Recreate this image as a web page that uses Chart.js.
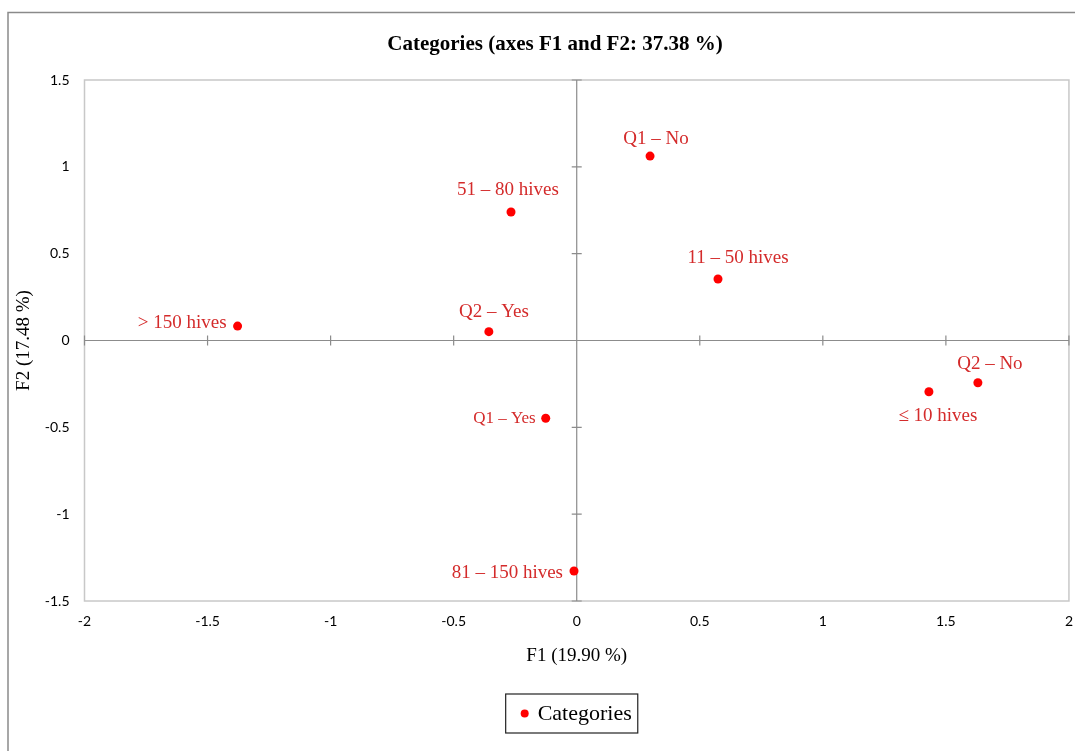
<!DOCTYPE html>
<html>
<head>
<meta charset="utf-8">
<script src="https://cdn.jsdelivr.net/npm/chart.js@4.4.1/dist/chart.umd.min.js"></script>
<style>
  html, body { margin: 0; padding: 0; background: #fff; }
  #wrap { position: relative; width: 1075px; height: 751px; }
  canvas { display: block; }
</style>
</head>
<body>
<div id="wrap"><canvas id="c" width="1075" height="751"></canvas></div>
<script>
// ---- data ----
const categories = ['Q1 – No', '51 – 80 hives', '11 – 50 hives', '> 150 hives', 'Q2 – Yes', 'Q2 – No', '≤ 10 hives', 'Q1 – Yes', '81 – 150 hives'];
const f1Values = [0.298, -0.267, 0.574, -1.378, -0.357, 1.630, 1.431, -0.126, -0.011];
const f2Values = [1.062, 0.740, 0.354, 0.083, 0.051, -0.243, -0.295, -0.448, -1.327];
const xTickValues = [-2, -1.5, -1, -0.5, 0, 0.5, 1, 1.5, 2];
const yTickValues = [-1.5, -1, -0.5, 0, 0.5, 1, 1.5];
const seriesName = 'Categories';
const chartTitle = 'Categories (axes F1 and F2: 37.38 %)';
const xTitle = 'F1 (19.90 %)';
const yTitle = 'F2 (17.48 %)';

// label placement (style only): alignment and pixel offsets from the point
const labelPlacement = [
  {align: 'center', dx: 6,   dy: -17, size: 19},
  {align: 'center', dx: -3,  dy: -22, size: 19},
  {align: 'center', dx: 20,  dy: -21, size: 19},
  {align: 'right',  dx: -11, dy: -3,  size: 19},
  {align: 'center', dx: 5,   dy: -20, size: 19},
  {align: 'center', dx: 12,  dy: -19, size: 19},
  {align: 'center', dx: 9,   dy: 24,  size: 19},
  {align: 'right',  dx: -10, dy: 0,   size: 17},
  {align: 'right',  dx: -11, dy: 2,   size: 19}
];

const SERIF = '"Liberation Serif", "DejaVu Serif", serif';
const SANS = 'Lato, "Open Sans", "Liberation Sans", sans-serif';

const points = f1Values.map((x, i) => ({x: x, y: f2Values[i]}));

const decorPlugin = {
  id: 'decor',
  beforeDraw(chart) {
    const ctx = chart.ctx;
    ctx.save();
    ctx.fillStyle = '#fff';
    ctx.fillRect(0, 0, chart.width, chart.height);
    // outer border
    ctx.strokeStyle = '#8a8a8a';
    ctx.lineWidth = 1.5;
    ctx.beginPath();
    ctx.moveTo(8, chart.height);
    ctx.lineTo(8, 12.5);
    ctx.lineTo(chart.width, 12.5);
    ctx.stroke();
    ctx.restore();
  },
  beforeDatasetsDraw(chart) {
    const {ctx, chartArea: a, scales: {x, y}} = chart;
    ctx.save();
    // plot frame
    ctx.strokeStyle = '#c8c8c8';
    ctx.lineWidth = 1.5;
    ctx.strokeRect(a.left, a.top, a.right - a.left, a.bottom - a.top);
    // zero axes
    const x0 = x.getPixelForValue(0), y0 = y.getPixelForValue(0);
    ctx.strokeStyle = '#8c8c8c';
    ctx.lineWidth = 1.2;
    ctx.beginPath();
    ctx.moveTo(x0, a.top); ctx.lineTo(x0, a.bottom);
    ctx.moveTo(a.left, y0); ctx.lineTo(a.right, y0);
    // tick marks on zero axes
    y.ticks.forEach(t => {
      const py = y.getPixelForValue(t.value);
      ctx.moveTo(x0 - 5, py); ctx.lineTo(x0 + 5, py);
    });
    x.ticks.forEach(t => {
      const px = x.getPixelForValue(t.value);
      ctx.moveTo(px, y0 - 5); ctx.lineTo(px, y0 + 5);
    });
    ctx.stroke();
    ctx.restore();
  },
  afterDatasetsDraw(chart) {
    const ctx = chart.ctx;
    const meta = chart.getDatasetMeta(0);
    ctx.save();
    ctx.fillStyle = '#d42b2b';
    ctx.textBaseline = 'middle';
    meta.data.forEach((el, i) => {
      const p = labelPlacement[i];
      ctx.font = p.size + 'px ' + SERIF;
      ctx.textAlign = p.align;
      ctx.fillText(categories[i], el.x + p.dx, el.y + p.dy);
    });
    ctx.restore();
  },
  afterDraw(chart) {
    const {ctx, chartArea: a} = chart;
    ctx.save();
    // title
    ctx.fillStyle = '#000';
    ctx.font = 'bold 21px ' + SERIF;
    ctx.textAlign = 'center';
    ctx.textBaseline = 'middle';
    ctx.fillText(chartTitle, 555, 45);
    // legend
    ctx.font = '22px ' + SERIF;
    const tw = ctx.measureText(seriesName).width;
    const bw = tw + 38, bh = 39;
    const cx = (a.left + a.right) / 2 - 5;
    const bx = cx - bw / 2, by = 694;
    ctx.strokeStyle = '#222';
    ctx.lineWidth = 1.2;
    ctx.strokeRect(bx, by, bw, bh);
    ctx.fillStyle = '#ff0000';
    ctx.beginPath();
    ctx.arc(bx + 19, by + bh / 2, 4, 0, Math.PI * 2);
    ctx.fill();
    ctx.fillStyle = '#000';
    ctx.textAlign = 'left';
    ctx.fillText(seriesName, bx + 32, by + bh / 2 + 1);
    ctx.restore();
  }
};

const hiddenGrid = {display: true, drawOnChartArea: false, drawTicks: true, tickLength: 10, color: 'rgba(0,0,0,0)'};

new Chart(document.getElementById('c'), {
  type: 'scatter',
  data: {
    datasets: [{
      label: seriesName,
      data: points,
      backgroundColor: '#ff0000',
      borderColor: '#ff0000',
      borderWidth: 0,
      pointRadius: 4.5,
      pointHoverRadius: 4.5
    }]
  },
  options: {
    responsive: false,
    animation: false,
    devicePixelRatio: 1,
    layout: {padding: {left: 8, right: 6, top: 80, bottom: 0}},
    plugins: {
      legend: {display: false},
      title: {display: false},
      tooltip: {enabled: false}
    },
    scales: {
      x: {
        type: 'linear',
        min: -2, max: 2,
        afterBuildTicks: s => { s.ticks = xTickValues.map(v => ({value: v})); },
        afterFit: s => { s.height = 150; },
        grid: hiddenGrid,
        border: {display: false},
        ticks: {
          padding: 2,
          color: '#000',
          font: {family: SANS, size: 14},
          callback: v => String(v)
        },
        title: {
          display: true,
          text: xTitle,
          color: '#000',
          font: {family: SERIF, size: 19},
          padding: {top: 0, bottom: 84}
        }
      },
      y: {
        type: 'linear',
        min: -1.5, max: 1.5,
        afterBuildTicks: s => { s.ticks = yTickValues.map(v => ({value: v})); },
        afterFit: s => { s.width = 76.5; },
        grid: {display: false, drawTicks: false},
        border: {display: false},
        ticks: {
          padding: 15,
          color: '#000',
          font: {family: SANS, size: 14},
          callback: v => String(v)
        },
        title: {
          display: true,
          text: yTitle,
          color: '#000',
          font: {family: SERIF, size: 19},
          padding: {top: 5, bottom: 0}
        }
      }
    }
  },
  plugins: [decorPlugin]
});
</script>
</body>
</html>
